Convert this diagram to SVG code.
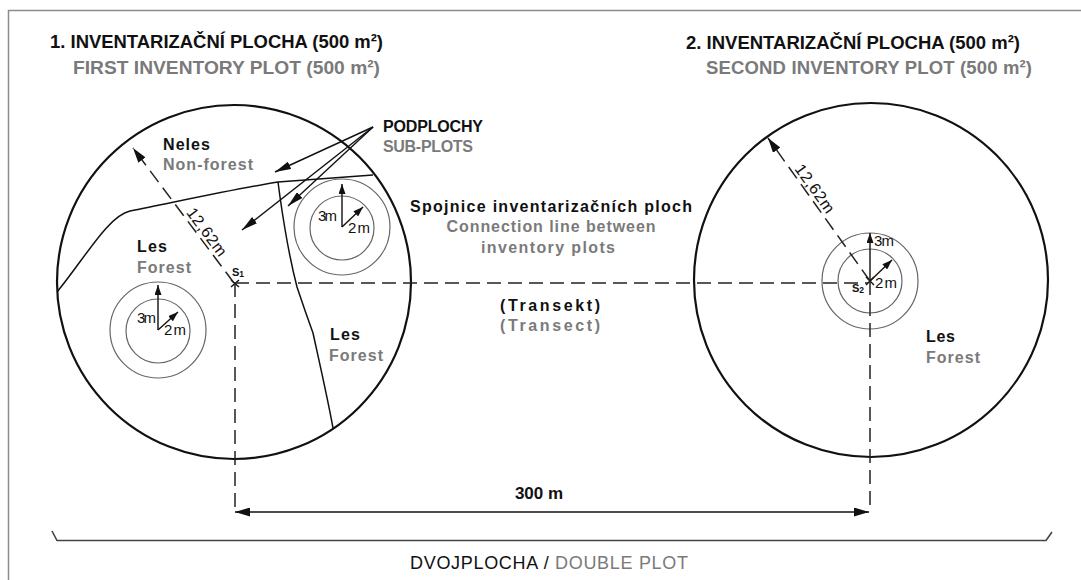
<svg xmlns="http://www.w3.org/2000/svg" width="1081" height="580" viewBox="0 0 1081 580">
<style>
text{font-family:"Liberation Sans",Arial,Helvetica,sans-serif}
.bk{fill:#111;font-weight:bold}
.gr{fill:#7a7a7a;font-weight:bold}
.big{fill:none;stroke:#111;stroke-width:2.2}
.land{fill:none;stroke:#111;stroke-width:1.5}
.sub{fill:none;stroke:#666;stroke-width:1.2}
.dash{fill:none;stroke:#222;stroke-width:1.5;stroke-dasharray:14 7}
.arr{fill:none;stroke:#111;stroke-width:1.4}
.lbl{fill:#111;font-size:15px}
</style>
<defs>
<marker id="mBig" markerUnits="userSpaceOnUse" markerWidth="16" markerHeight="9" refX="15" refY="4.5" orient="auto-start-reverse"><path d="M0,0 L15,4.5 L0,9 z" fill="#111"/></marker>
<marker id="mPtr" markerUnits="userSpaceOnUse" markerWidth="17" markerHeight="8" refX="16" refY="4" orient="auto"><path d="M0,0 L16,4 L0,8 z" fill="#111"/></marker>
<marker id="mSm" markerUnits="userSpaceOnUse" markerWidth="11" markerHeight="7" refX="10" refY="3.5" orient="auto"><path d="M0,0 L10,3.5 L0,7 z" fill="#111"/></marker>
</defs>
<rect width="1081" height="580" fill="#fff"/>
<g id="frame" fill="none" stroke="#8c8c8c" stroke-width="1.5">
<path d="M8.5,580 L8.5,10.5 L1081,10.5"/>
</g>
<g id="titles">
<text class="bk" x="50" y="48" font-size="18.5" textLength="333" lengthAdjust="spacingAndGlyphs">1. INVENTARIZAČNÍ PLOCHA (500 m²)</text>
<text class="gr" x="73" y="74" font-size="18.5" textLength="307" lengthAdjust="spacingAndGlyphs">FIRST INVENTORY PLOT (500 m²)</text>
<text class="bk" x="686" y="49" font-size="18.5" textLength="334" lengthAdjust="spacingAndGlyphs">2. INVENTARIZAČNÍ PLOCHA (500 m²)</text>
<text class="gr" x="706" y="74" font-size="18.5" textLength="326" lengthAdjust="spacing">SECOND INVENTORY PLOT (500 m²)</text>
</g>
<g id="plot1">
<circle class="big" cx="234" cy="282" r="177"/>
<path class="land" d="M57,292 C85,258 108,216 130,211 C180,201 240,188 278,182 L373,175"/>
<path class="land" d="M278,182 L280,197 C284,225 290,260 297,287 C303,305 309,322 313,333 C320,365 328,400 333,428"/>
<text class="bk" x="163" y="150" font-size="16" textLength="47">Neles</text>
<text class="gr" x="163" y="170" font-size="16" textLength="90">Non-forest</text>
<text class="bk" x="137" y="252" font-size="16" textLength="30">Les</text>
<text class="gr" x="137" y="273" font-size="16" textLength="54">Forest</text>
<text class="bk" x="330" y="340" font-size="16" textLength="30">Les</text>
<text class="gr" x="329" y="361" font-size="16" textLength="54">Forest</text>
<text transform="translate(200,237) rotate(53.2)" x="0" y="-3" text-anchor="middle" fill="#111" font-size="16" textLength="56">12,62m</text>
<path d="M231,280 L239,287 M239,280 L231,287" stroke="#111" stroke-width="1.4"/>
<text x="232" y="276" fill="#111" font-weight="bold" font-size="11">S<tspan font-size="8.5" dy="1">1</tspan></text>
</g>
<g id="subplotA">
<circle class="sub" cx="158" cy="330" r="48"/>
<circle class="sub" cx="158" cy="331" r="32"/>
<line class="arr" x1="158" y1="330" x2="158" y2="285" marker-end="url(#mSm)"/>
<line class="arr" x1="158" y1="330" x2="178" y2="312" marker-end="url(#mSm)"/>
<text class="lbl" x="137" y="323" textLength="19">3m</text>
<text class="lbl" x="164" y="335" textLength="22">2m</text>
</g>
<g id="subplotB">
<circle class="sub" cx="342" cy="227" r="48"/>
<circle class="sub" cx="342" cy="228" r="32"/>
<line class="arr" x1="342" y1="227" x2="342" y2="184" marker-end="url(#mSm)"/>
<line class="arr" x1="342" y1="227" x2="363" y2="207" marker-end="url(#mSm)"/>
<text class="lbl" x="318" y="221" textLength="19">3m</text>
<text class="lbl" x="348" y="233" textLength="22">2m</text>
</g>
<g id="podplochy">
<text class="bk" x="383" y="132" font-size="16" textLength="100">PODPLOCHY</text>
<text class="gr" x="383" y="152" font-size="16" textLength="90">SUB-PLOTS</text>
</g>
<g id="spojnice">
<text class="bk" x="551" y="212" font-size="16" text-anchor="middle" textLength="282">Spojnice inventarizačních ploch</text>
<text class="gr" x="551" y="232" font-size="16" text-anchor="middle" textLength="209">Connection line between</text>
<text class="gr" x="548" y="253" font-size="16" text-anchor="middle" textLength="134">inventory plots</text>
<text class="bk" x="550" y="311" font-size="16" text-anchor="middle" textLength="100">(Transekt)</text>
<text class="gr" x="550" y="331" font-size="16" text-anchor="middle" textLength="100">(Transect)</text>
</g>
<g id="plot2">
<circle class="big" cx="871" cy="280" r="177"/>
<text transform="translate(808,193.5) rotate(54.2)" x="0" y="-3" text-anchor="middle" fill="#111" font-size="16" textLength="56">12,62m</text>
<text class="bk" x="926" y="342" font-size="16" textLength="29">Les</text>
<text class="gr" x="926" y="363" font-size="16" textLength="54">Forest</text>
</g>
<g id="subplotC">
<circle class="sub" cx="870" cy="281" r="48"/>
<circle class="sub" cx="870" cy="281" r="32"/>
<line class="arr" x1="870" y1="281" x2="870" y2="233" marker-end="url(#mSm)"/>
<line class="arr" x1="870" y1="281" x2="892" y2="260" marker-end="url(#mSm)"/>
<path d="M866,277 L874,285 M874,277 L866,285" stroke="#111" stroke-width="1.4"/>
<text class="lbl" x="874" y="246" textLength="20">3m</text>
<text class="lbl" x="875" y="288" textLength="22">2m</text>
<text x="852" y="292" fill="#111" font-weight="bold" font-size="11">S<tspan font-size="8.5" dy="1">2</tspan></text>
</g>
<g id="connectors">
<line class="dash" x1="235" y1="283" x2="868" y2="283"/>
<line class="dash" x1="235" y1="283" x2="235" y2="512"/>
<line class="dash" x1="870" y1="281" x2="870" y2="512"/>
<line class="dash" x1="234" y1="283" x2="133" y2="148" marker-end="url(#mBig)"/>
<line class="dash" x1="870" y1="281" x2="768" y2="138" marker-end="url(#mBig)"/>
<line class="arr" x1="373" y1="127" x2="275" y2="172" marker-end="url(#mPtr)"/>
<line class="arr" x1="373" y1="127" x2="288" y2="206" marker-end="url(#mPtr)"/>
<line class="arr" x1="373" y1="127" x2="242" y2="230" marker-end="url(#mPtr)"/>
<line class="arr" x1="235" y1="512" x2="869" y2="512" stroke-width="1.6" marker-start="url(#mBig)" marker-end="url(#mBig)"/>
<text class="bk" x="539" y="499" font-size="17" text-anchor="middle">300 m</text>
</g>
<g id="doubleplot">
<path d="M52,531 L57,540.5 L1046,540.5 L1052,532" fill="none" stroke="#444" stroke-width="1.6"/>
<text x="410" y="569" font-size="18" textLength="278" fill="#111">DVOJPLOCHA / <tspan fill="#7a7a7a">DOUBLE PLOT</tspan></text>
</g>
</svg>
